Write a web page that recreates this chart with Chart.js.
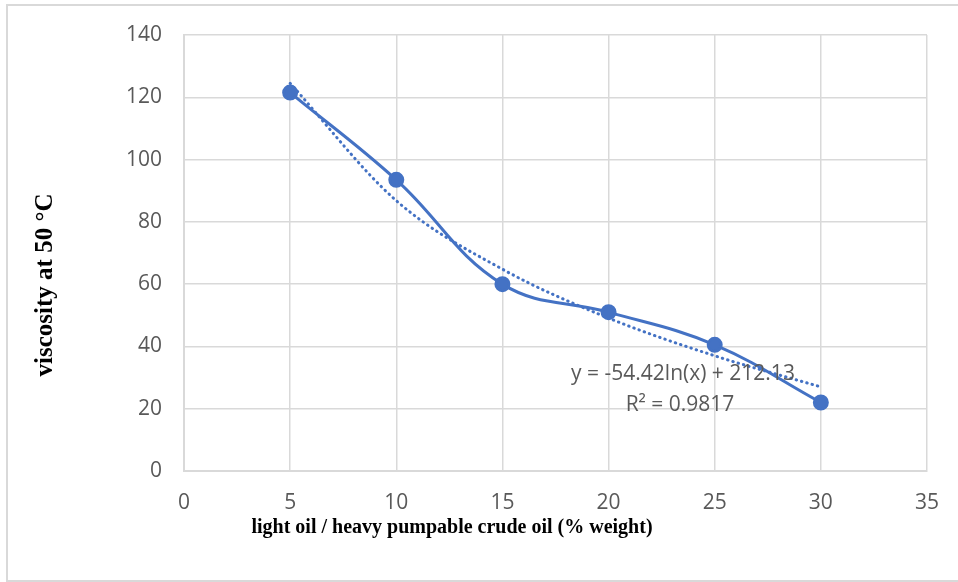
<!DOCTYPE html>
<html>
<head>
<meta charset="utf-8">
<script src="https://cdn.jsdelivr.net/npm/chart.js@4"></script>
<style>
  html, body { margin: 0; padding: 0; background: #fff; }
  #wrap { width: 958px; height: 582px; position: relative; }
</style>
</head>
<body>
<div id="wrap"><canvas id="chart"></canvas></div>
<script>
// values
const xValues = [5, 10, 15, 20, 25, 30];
const viscosity = [121.5, 93.5, 60, 51, 40.5, 22];
// logarithmic trendline as drawn (dotted)
const trendValues = [124.5, 86.8, 64.8, 49.1, 37.0, 27.0];
const equationLines = ['y = -54.42ln(x) + 212.13', 'R² = 0.9817'];
const xTitle = 'light oil / heavy pumpable crude oil (% weight)';
const yTitle = 'viscosity at 50 °C';

const blue = '#4472C4';
const gridColor = '#d9d9d9';
const tickColor = '#595959';

const toPoints = (xs, ys) => xs.map((x, i) => ({ x: x, y: ys[i] }));

// frame around the whole chart
const framePlugin = {
  id: 'frame',
  beforeDraw(chart) {
    const ctx = chart.ctx;
    ctx.save();
    ctx.fillStyle = '#fff';
    ctx.fillRect(0, 0, chart.width, chart.height);
    ctx.strokeStyle = gridColor;
    ctx.lineWidth = 2;
    ctx.strokeRect(7, 5, chart.width + 10, chart.height - 6);
    ctx.restore();
  }
};

// axis titles and trendline label
const labelsPlugin = {
  id: 'labels',
  afterDraw(chart) {
    const ctx = chart.ctx;
    ctx.save();
    ctx.fillStyle = '#000';
    ctx.textAlign = 'center';
    ctx.textBaseline = 'middle';
    ctx.font = 'bold 20px "Liberation Serif", "Times New Roman", serif';
    ctx.fillText(xTitle, 452, 528);

    ctx.translate(46, 285);
    ctx.rotate(-Math.PI / 2);
    ctx.font = 'bold 25px "Liberation Serif", "Times New Roman", serif';
    ctx.fillText(yTitle, 0, 0);
    ctx.restore();

    ctx.save();
    ctx.fillStyle = tickColor;
    ctx.textAlign = 'center';
    ctx.textBaseline = 'middle';
    ctx.font = '21px "Open Sans", sans-serif';
    ctx.fillText(equationLines[0], 683, 374);
    ctx.fillText(equationLines[1], 680, 405);
    ctx.restore();
  }
};

const ctx = document.getElementById('chart').getContext('2d');
new Chart(ctx, {
  type: 'scatter',
  data: {
    datasets: [
      {
        label: 'viscosity',
        data: toPoints(xValues, viscosity),
        showLine: true,
        borderColor: blue,
        backgroundColor: blue,
        borderWidth: 3,
        tension: 0.4,
        pointRadius: 6.5,
        pointHoverRadius: 6.5,
        order: 1
      },
      {
        label: 'trend',
        data: toPoints(xValues, trendValues),
        showLine: true,
        borderColor: blue,
        borderWidth: 3,
        borderDash: [0.5, 5],
        borderCapStyle: 'round',
        cubicInterpolationMode: 'monotone',
        pointRadius: 0,
        order: 2
      }
    ]
  },
  options: {
    responsive: true,
    maintainAspectRatio: false,
    animation: false,
    layout: { padding: { top: 35, right: 29, left: 0, bottom: 0 } },
    scales: {
      x: {
        type: 'linear',
        min: 0,
        max: 35,
        afterFit(scale) { scale.height = 111; },
        ticks: {
          stepSize: 5,
          padding: 19,
          color: tickColor,
          font: { family: '"Open Sans", sans-serif', size: 21 }
        },
        grid: { color: gridColor, lineWidth: 1.5, drawTicks: false },
        border: { color: gridColor, width: 2 }
      },
      y: {
        min: 0,
        max: 140,
        afterFit(scale) { scale.width = 184; },
        ticks: {
          stepSize: 20,
          padding: 22,
          color: tickColor,
          font: { family: '"Open Sans", sans-serif', size: 21 }
        },
        grid: { color: gridColor, lineWidth: 1.5, drawTicks: false },
        border: { color: gridColor, width: 2 }
      }
    },
    plugins: {
      legend: { display: false },
      tooltip: { enabled: false }
    }
  },
  plugins: [framePlugin, labelsPlugin]
});
</script>
</body>
</html>
